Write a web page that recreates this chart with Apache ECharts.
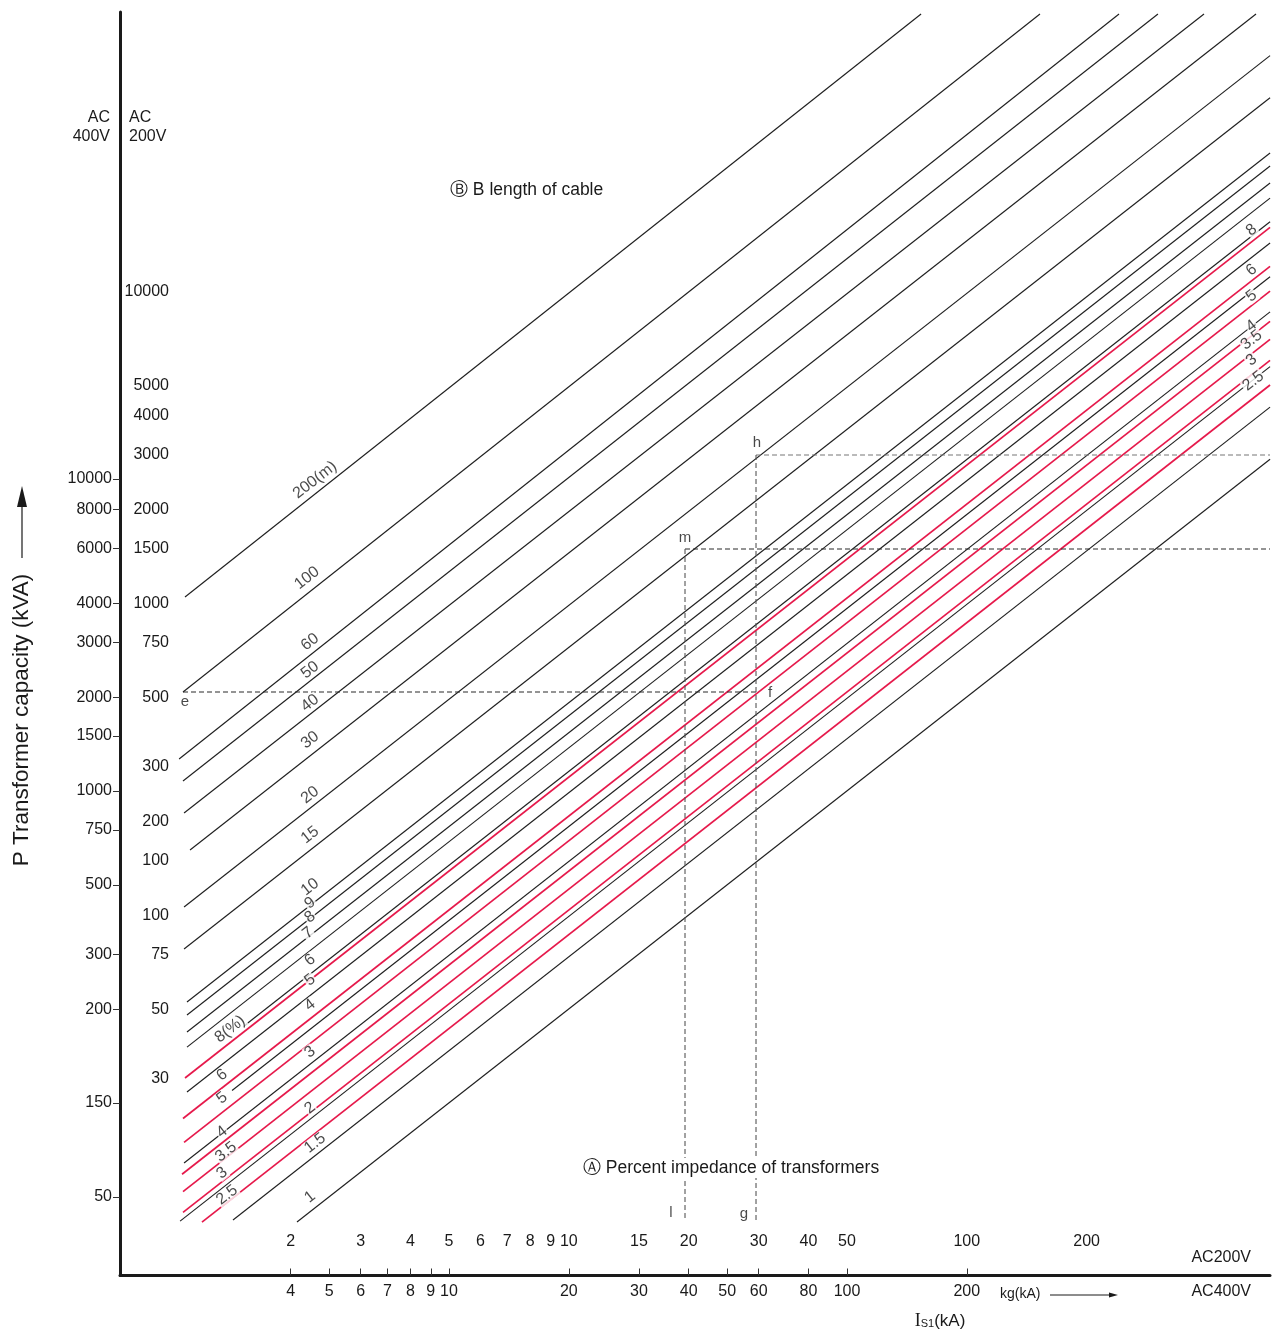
<!DOCTYPE html>
<html><head><meta charset="utf-8">
<script src="https://cdn.jsdelivr.net/npm/echarts@6/dist/echarts.min.js"></script>
<style>html,body{margin:0;padding:0;background:#fff}#c{width:1272px;height:1330px}</style>
</head><body><div id="c"></div><script>
// ---------------- data ----------------
// axis ranges (AC400V short-circuit current kA, AC400V transformer kVA)
const xRange400 = [1.4905, 1155.6];
const yRange400 = [28.0, 314000];
// bottom axis: AC400V ticks / labels, AC200V labels
const tick400X = [4, 5, 6, 7, 8, 9, 10, 20, 30, 40, 50, 60, 80, 100, 200];
const label200X = [2, 3, 4, 5, 6, 7, 8, 9, 10, 15, 20, 30, 40, 50, 100, 200];
// left axis: AC400V ticks and their printed texts, AC200V labels and printed texts
const tick400Y = [50, 100, 200, 300, 500, 750, 1000, 1500, 2000, 3000, 4000, 6000, 8000, 10000];
const tick400YText = ['50', '150', '200', '300', '500', '750', '1000', '1500', '2000', '3000', '4000', '6000', '8000', '10000'];
const label200Y = [30, 50, 75, 100, 150, 200, 300, 500, 750, 1000, 1500, 2000, 3000, 4000, 5000, 10000];
const label200YText = ['30', '50', '75', '100', '100', '200', '300', '500', '750', '1000', '1500', '2000', '3000', '4000', '5000', '10000'];

// B: cable length lines  [kA, kVA] start and end points
const cableNames = ['200(m)', '100', '60', '50', '40', '30', '20', '15', '10', '9', '8', '7', '6', '5', '4', '3', '2', '1.5', '1'];
const cableStart = [[2.171, 4185], [2.146, 2076], [2.098, 1266], [2.146, 1077], [2.159, 850], [2.235, 647], [2.159, 425], [2.159, 311.6], [2.196, 210.8], [2.196, 191.4], [2.196, 168.9], [2.196, 151.1], [3.037, 175.5], [2.196, 108.5], [2.850, 109.7], [2.159, 64.2], [2.110, 41.84], [2.866, 42.17], [4.150, 41.55]];
const cableEnd = [[153.5, 309400], [305.4, 309400], [482.5, 309400], [604.4, 309400], [788.8, 309400], [1065.8, 309400], [1156, 227500], [1156, 166800], [1156, 110900], [1156, 100800], [1156, 88900], [1156, 79500], [1156, 66800], [1156, 57100], [1156, 44500], [1156, 34330], [1156, 22920], [1156, 17000], [1156, 11570]];
const cableLabelAt = [[4.606, 9927], [4.398, 4817], [4.475, 3003], [4.475, 2442], [4.475, 1915], [4.475, 1457], [4.475, 971], [4.475, 722.8], [4.475, 492.6], [4.475, 437.5], [4.475, 394.6], [4.423, 350.6], [4.475, 287.2], [4.475, 247.8], [4.475, 206.1], [4.475, 145.7], [4.475, 96.4], [4.606, 74.4], [4.475, 49.95]];

// A: percent impedance of transformers (red lines)
const impNames = ['8', '6', '5', '4', '3.5', '3', '2.5'];
const impStart = [[2.171, 120.3], [2.146, 89.2], [2.159, 74.8], [2.134, 59.1], [2.146, 52.0], [2.146, 44.6], [2.395, 41.5]];
const impEnd = [[1156, 64040], [1156, 48040], [1156, 40030], [1156, 32020], [1156, 28020], [1156, 24010], [1156, 20015]];
const impLabelLeftText = ['8(%)', '6', '5', '4', '3.5', '3', '2.5'];
const impLabelLeftAt = [[2.817, 172.6], [2.689, 122.9], [2.689, 103.8], [2.689, 80.7], [2.752, 69.7], [2.689, 59.65], [2.768, 50.7]];
const impLabelRightAt = [[1039, 62830], [1039, 46770], [1039, 38600], [1039, 30930], [1039, 27890], [1039, 24060], [1049, 20610]];

// worked example: dashed guide lines (kA, kVA)
const currentE = 2.146, currentL = 39.17, currentG = 59.07, currentRight = 1156, guideBottom = 42.17;
const powerEF = 2076, powerM = 5965, powerH = 11940;

// ---------------- chart ----------------
const BLACK = '#1f1f1f', RED = '#e6194b', FONT = "'Liberation Sans', Arial, Helvetica, sans-serif";
const lg = Math.log10;
const P = p => [lg(p[0]), lg(p[1])];
function fmt(vals, texts) {
  const lv = vals.map(lg);
  return v => { let bi = 0, bd = 1e9; lv.forEach((x, i) => { const d = Math.abs(x - v); if (d < bd) { bd = d; bi = i; } }); return texts[bi]; };
}
const XMIN = lg(xRange400[0]), XMAX = lg(xRange400[1]);
const YMIN = lg(yRange400[0]), YMAX = lg(yRange400[1]);

const series = [];
cableNames.forEach((n, i) => series.push({
  type: 'line', name: 'B ' + n, data: [P(cableStart[i]), P(cableEnd[i])], symbol: 'none', silent: true,
  lineStyle: { color: BLACK, width: 1.15 }, z: 2
}));
impNames.forEach((n, i) => series.push({
  type: 'line', name: 'A ' + n, data: [P(impStart[i]), P(impEnd[i])], symbol: 'none', silent: true,
  lineStyle: { color: RED, width: 1.7 }, z: 3
}));
function dashed(a, b, color) {
  series.push({ type: 'line', data: [P(a), P(b)], symbol: 'none', silent: true, z: 4,
    lineStyle: { color: color, width: 1.1, type: [5, 3] } });
}
dashed([currentE, powerEF], [currentG, powerEF], '#2a2a2a');
dashed([currentL, powerM], [currentRight, powerM], '#2a2a2a');
dashed([currentL, powerM], [currentL, guideBottom], '#555');
dashed([currentG, powerH], [currentRight, powerH], '#777');
dashed([currentG, powerH], [currentG, guideBottom], '#555');

const lblStyle = { show: true, position: 'inside', rotate: 38, fontSize: 16, color: '#1a1a1a', fontFamily: FONT,
  backgroundColor: '#fff', padding: [0, 1], lineHeight: 14 };
const labelItems = [];
cableNames.forEach((n, i) => labelItems.push({ value: P(cableLabelAt[i]), label: { formatter: n } }));
impLabelLeftText.forEach((n, i) => labelItems.push({ value: P(impLabelLeftAt[i]), label: { formatter: n } }));
impNames.forEach((n, i) => labelItems.push({ value: P(impLabelRightAt[i]), label: { formatter: n } }));
series.push({ type: 'scatter', data: labelItems, symbolSize: 1, itemStyle: { color: 'rgba(0,0,0,0)' },
  label: lblStyle, silent: true, z: 6 });

const letterStyle = { show: true, fontSize: 15, color: '#1a1a1a', fontFamily: FONT, position: 'inside' };
const letters = [
  { value: P([currentE, powerEF]), label: { formatter: 'e', offset: [2, 10] } },
  { value: P([currentG, powerEF]), label: { formatter: 'f', offset: [14, 1] } },
  { value: P([currentG, powerH]), label: { formatter: 'h', offset: [1, -12] } },
  { value: P([currentL, powerM]), label: { formatter: 'm', offset: [0, -11] } },
  { value: P([currentL, guideBottom]), label: { formatter: 'l', offset: [-14, -7] } },
  { value: P([currentG, guideBottom]), label: { formatter: 'g', offset: [-12, -6] } }
];
series.push({ type: 'scatter', data: letters, symbolSize: 1, itemStyle: { color: 'rgba(0,0,0,0)' },
  label: letterStyle, silent: true, z: 7 });

const axText = { fontSize: 16, color: '#1a1a1a', fontFamily: FONT };
const option = {
  animation: false,
  backgroundColor: '#fff',
  grid: { left: 120, right: 2, top: 12, bottom: 54.5, containLabel: false },
  xAxis: [
    { type: 'value', position: 'bottom', min: XMIN, max: XMAX,
      axisLine: { show: true, onZero: false, lineStyle: { color: '#1a1a1a', width: 3 } },
      axisTick: { show: true, inside: true, length: 7, customValues: tick400X.map(lg), lineStyle: { color: '#333', width: 1 } },
      axisLabel: Object.assign({ show: true, margin: 8, customValues: tick400X.map(lg), formatter: fmt(tick400X, tick400X.map(String)) }, axText),
      splitLine: { show: false } },
    { type: 'value', position: 'bottom', min: XMIN - lg(2), max: XMAX - lg(2),
      axisLine: { show: false }, axisTick: { show: false },
      axisLabel: Object.assign({ show: true, inside: true, margin: 26, customValues: label200X.map(lg), formatter: fmt(label200X, label200X.map(String)) }, axText),
      splitLine: { show: false } }
  ],
  yAxis: [
    { type: 'value', position: 'left', min: YMIN, max: YMAX,
      axisLine: { show: true, onZero: false, lineStyle: { color: '#1a1a1a', width: 3 } },
      axisTick: { show: true, inside: false, length: 7, customValues: tick400Y.map(lg), lineStyle: { color: '#333', width: 1 } },
      axisLabel: Object.assign({ show: true, margin: 8, customValues: tick400Y.map(lg), formatter: fmt(tick400Y, tick400YText) }, axText),
      splitLine: { show: false } },
    { type: 'value', position: 'left', offset: 0, min: YMIN - lg(4), max: YMAX - lg(4),
      axisLine: { show: false }, axisTick: { show: false },
      axisLabel: Object.assign({ show: true, inside: true, align: 'right', margin: 49, customValues: label200Y.map(lg), formatter: fmt(label200Y, label200YText) }, axText),
      splitLine: { show: false } }
  ],
  series: series,
  graphic: [
    { type: 'text', style: { text: 'AC\n400V', x: 110, y: 108, textAlign: 'right', font: '16px ' + FONT, lineHeight: 19, fill: '#1a1a1a' } },
    { type: 'text', style: { text: 'AC\n200V', x: 129, y: 108, textAlign: 'left', font: '16px ' + FONT, lineHeight: 19, fill: '#1a1a1a' } },
    { type: 'text', style: { text: 'Ⓑ B length of cable', x: 450, y: 190, textVerticalAlign: 'middle', font: '17.5px ' + FONT, fill: '#1a1a1a' } },
    { type: 'text', z: 10, style: { text: 'Ⓐ Percent impedance of transformers', x: 581, y: 1168, textVerticalAlign: 'middle', font: '17.5px ' + FONT, fill: '#1a1a1a', backgroundColor: '#fff', padding: [1, 2] } },
    { type: 'text', x: 22, y: 720, rotation: Math.PI / 2, style: { text: 'P Transformer capacity (kVA)', x: 0, y: 0, textAlign: 'center', textVerticalAlign: 'middle', font: '22.5px ' + FONT, fill: '#1a1a1a' } },
    { type: 'line', shape: { x1: 22, y1: 558, x2: 22, y2: 500 }, style: { stroke: '#1a1a1a', lineWidth: 1.2 } },
    { type: 'polygon', shape: { points: [[22, 486], [17, 507], [27, 507]] }, style: { fill: '#1a1a1a' } },
    { type: 'text', style: { text: 'kg(kA)', x: 1000, y: 1294, textVerticalAlign: 'middle', font: '14px ' + FONT, fill: '#1a1a1a' } },
    { type: 'line', shape: { x1: 1050, y1: 1295, x2: 1112, y2: 1295 }, style: { stroke: '#1a1a1a', lineWidth: 1 } },
    { type: 'polygon', shape: { points: [[1118, 1295], [1109, 1292.5], [1109, 1297.5]] }, style: { fill: '#1a1a1a' } },
    { type: 'text', style: { text: 'AC200V', x: 1251, y: 1258, textAlign: 'right', textVerticalAlign: 'middle', font: '16px ' + FONT, fill: '#1a1a1a' } },
    { type: 'text', style: { text: 'AC400V', x: 1251, y: 1292, textAlign: 'right', textVerticalAlign: 'middle', font: '16px ' + FONT, fill: '#1a1a1a' } },
    { type: 'text', style: { text: '{a|I}{b|S1}{c|(kA)}', x: 940, y: 1321, textAlign: 'center', textVerticalAlign: 'middle', fill: '#1a1a1a',
      rich: { a: { fontSize: 18, fontFamily: "'Liberation Serif', serif", fill: '#1a1a1a' }, b: { fontSize: 11, fontFamily: FONT, fill: '#1a1a1a', padding: [6, 0, 0, 0] }, c: { fontSize: 17, fontFamily: FONT, fill: '#1a1a1a' } } } }
  ]
};
const chart = echarts.init(document.getElementById('c'), null, { renderer: 'canvas', width: 1272, height: 1330 });
chart.setOption(option);
</script></body></html>
